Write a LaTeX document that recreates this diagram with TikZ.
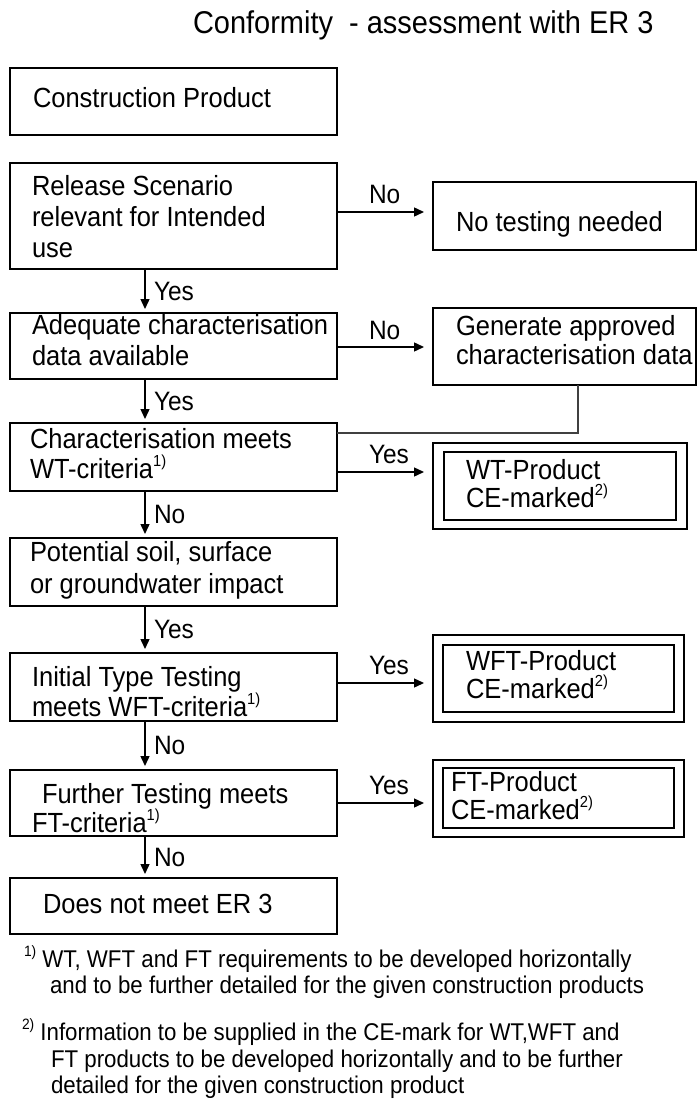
\documentclass[tikz,border=0pt]{standalone}
\usepackage{fontspec}
\setmainfont{Liberation Sans}[FakeStretch=0.92]
\usetikzlibrary{arrows.meta}
\newcommand\boxfont{\fontsize{27.7}{31}\selectfont}
\newcommand\lblfont{\fontsize{26.6}{29}\selectfont}
\newcommand\fnfont{\fontsize{24.2}{27}\selectfont}
\newcommand\titlefont{\fontsize{31.5}{33}\selectfont}
\newcommand\supmark[1]{\raisebox{0.40em}{\fontsize{16}{16}\selectfont #1}}
\newcommand\fnmark[1]{\raisebox{0.42em}{\fontsize{15}{15}\selectfont #1}}
\newcommand\mlines[2]{\parbox[t]{330pt}{\baselineskip=#1pt\relax #2}}
\begin{document}
\begin{tikzpicture}[x=1pt,y=-1pt,
  every node/.style={inner sep=0pt, outer sep=0pt},
  box/.style={draw, line width=1.4pt, rectangle, anchor=north west},
  txt/.style={anchor=base west, font=\boxfont},
  lbl/.style={font=\lblfont},
  fn/.style={anchor=base west, font=\fnfont},
  arr/.style={line width=1.4pt, -{Triangle[length=10pt,width=9pt]}},
  conn/.style={line width=1.1pt, draw=black!75}
]
\useasboundingbox (0,0) rectangle (697,1099);
\fill[white] (0,0) rectangle (697,1099);

% title
\node[anchor=base west, font=\titlefont] (title) at (193,34) {Conformity~ - assessment with ER 3};

% left column boxes
\node[box, minimum width=327pt, minimum height=67pt] (b1) at (10,68) {};
\node[box, minimum width=327pt, minimum height=106pt] (b2) at (10,163) {};
\node[box, minimum width=327pt, minimum height=66pt] (b3) at (10,313) {};
\node[box, minimum width=327pt, minimum height=68pt] (b4) at (10,423) {};
\node[box, minimum width=327pt, minimum height=68pt] (b5) at (10,538) {};
\node[box, minimum width=327pt, minimum height=68pt] (b6) at (10,653) {};
\node[box, minimum width=327pt, minimum height=66pt] (b7) at (10,770) {};
\node[box, minimum width=327pt, minimum height=56pt] (b8) at (10,878) {};

% right column boxes
\node[box, minimum width=263pt, minimum height=68pt] (nt) at (433,182) {};
\node[box, minimum width=263pt, minimum height=77pt] (gen) at (433,308) {};
\node[box, minimum width=254pt, minimum height=86pt] (wto) at (433,443) {};
\node[box, minimum width=232pt, minimum height=68pt] (wti) at (444,452) {};
\node[box, minimum width=251pt, minimum height=87pt] (wfto) at (433,635) {};
\node[box, minimum width=231pt, minimum height=67pt] (wfti) at (443,645) {};
\node[box, minimum width=251pt, minimum height=77pt] (fto) at (433,760) {};
\node[box, minimum width=231pt, minimum height=60pt] (fti) at (443,768) {};

% texts in left boxes
\node[txt] (t1) at (33,108) {Construction Product};
\node[txt] (t2) at (32,196) {\mlines{31}{Release Scenario\\relevant for Intended\\use}};
\node[txt] (t3) at (32,334) {\mlines{31}{Adequate characterisation\\data available}};
\node[txt] (t4) at (30,448) {\mlines{30}{Characterisation meets\\WT-criteria\supmark{1)}}};
\node[txt] (t5) at (30,561) {\mlines{32}{Potential soil, surface\\or groundwater impact}};
\node[txt] (t6) at (32,686) {\mlines{30}{Initial Type Testing\\meets WFT-criteria\supmark{1)}}};
\node[txt] (t7a) at (42,803) {Further Testing meets};
\node[txt] (t7b) at (32,832) {FT-criteria\supmark{1)}};
\node[txt] (t8) at (43,913) {Does not meet ER 3};

% texts in right boxes
\node[txt] (tnt) at (456,232) {No testing needed};
\node[txt] (tgen) at (456,335) {\mlines{29}{Generate approved\\characterisation data}};
\node[txt] (twt) at (466,479) {\mlines{28}{WT-Product\\CE-marked\supmark{2)}}};
\node[txt] (twft) at (466,670) {\mlines{28}{WFT-Product\\CE-marked\supmark{2)}}};
\node[txt] (tft) at (451,791) {\mlines{28}{FT-Product\\CE-marked\supmark{2)}}};

% vertical arrows
\coordinate (vx) at (145,0);
\draw[arr, shorten >=4pt] (b2.south -| vx) -- node[lbl, anchor=west, xshift=9pt] (y1) {Yes} (b3.north -| vx);
\draw[arr, shorten >=4pt] (b3.south -| vx) -- node[lbl, anchor=west, xshift=9pt] (y2) {Yes} (b4.north -| vx);
\draw[arr, shorten >=4pt] (b4.south -| vx) -- node[lbl, anchor=west, xshift=9pt] (n3) {No} (b5.north -| vx);
\draw[arr, shorten >=4pt] (b5.south -| vx) -- node[lbl, anchor=west, xshift=9pt] (y4) {Yes} (b6.north -| vx);
\draw[arr, shorten >=4pt] (b6.south -| vx) -- node[lbl, anchor=west, xshift=9pt] (n5) {No} (b7.north -| vx);
\draw[arr, shorten >=4pt] (b7.south -| vx) -- node[lbl, anchor=west, xshift=9pt] (n6) {No} (b8.north -| vx);

% horizontal arrows
\coordinate (h1) at (0,212);
\coordinate (h2) at (0,347);
\coordinate (h3) at (0,472);
\coordinate (h4) at (0,683);
\coordinate (h5) at (0,803);
\draw[arr, shorten >=9pt] (b2.east |- h1) -- (nt.west |- h1);
\draw[arr, shorten >=9pt] (b3.east |- h2) -- (gen.west |- h2);
\draw[arr, shorten >=9pt] (b4.east |- h3) -- (wto.west |- h3);
\draw[arr, shorten >=9pt] (b6.east |- h4) -- (wfto.west |- h4);
\draw[arr, shorten >=9pt] (b7.east |- h5) -- (fto.west |- h5);
\node[lbl, anchor=base west] (hn1) at (369,204) {No};
\node[lbl, anchor=base west] (hn2) at (369,339) {No};
\node[lbl, anchor=base west] (hy3) at (369,463) {Yes};
\node[lbl, anchor=base west] (hy4) at (369,674) {Yes};
\node[lbl, anchor=base west] (hy5) at (369,794) {Yes};

% connector from generate box to characterisation box
\coordinate (cx) at (578,0);
\coordinate (ch) at (0,433);
\draw[conn] (gen.south -| cx) |- (b4.east |- ch);

% footnotes
\node[fn] (f1a) at (24,967) {\fnmark{1)} WT, WFT and FT requirements to be developed horizontally};
\node[fn] (f1b) at (50,993) {and to be further detailed for the given construction products};
\node[fn] (f2a) at (22,1040) {\fnmark{2)} Information to be supplied in the CE-mark for WT,WFT and};
\node[fn] (f2b) at (51,1067) {FT products to be developed horizontally and to be further};
\node[fn] (f2c) at (51,1093) {detailed for the given construction product};
\end{tikzpicture}
\end{document}
